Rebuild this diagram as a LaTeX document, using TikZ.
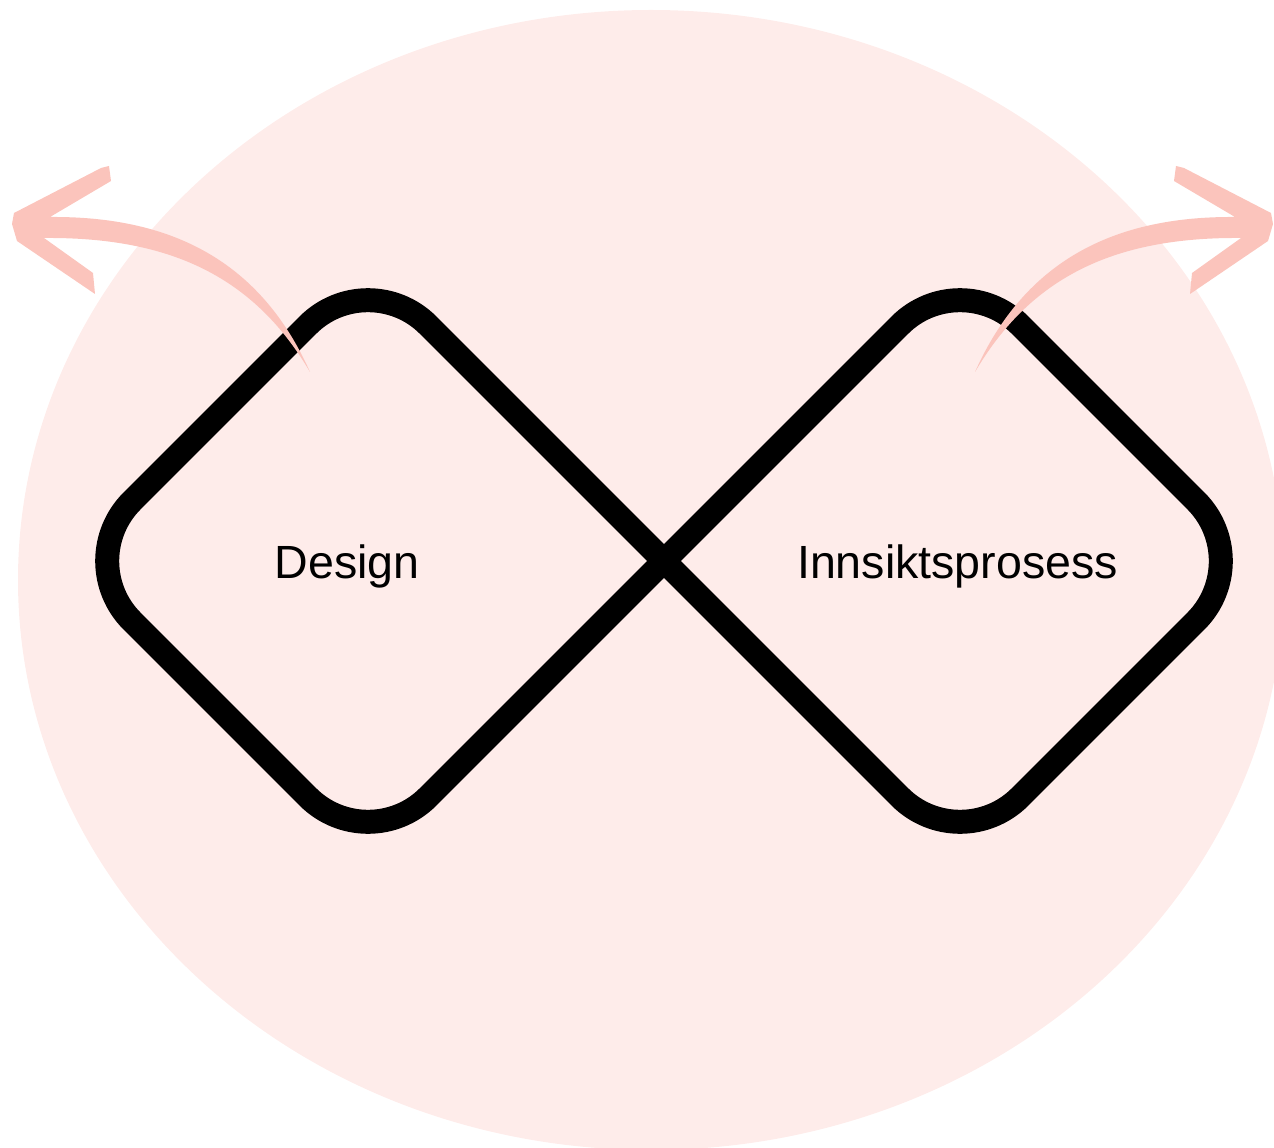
\documentclass[tikz,border=0pt]{standalone}
\usepackage{fontspec}
\setmainfont{Liberation Sans}
\definecolor{bgpink}{HTML}{FEECEA}
\definecolor{arrowpink}{HTML}{FBC4BC}
\begin{document}
\begin{tikzpicture}[x=0.02cm,y=-0.02cm,
  loopline/.style={draw=black,line width=0.48cm,rounded corners=1.7cm},
  lbl/.style={font=\fontsize{26.5}{30}\selectfont,anchor=base,inner sep=0pt},
  brush/.style={fill=arrowpink,draw=none}]
\useasboundingbox (0,0) rectangle (1274,1148);
\begin{scope}
  \clip (0,0) rectangle (1274,1148);
  \fill[bgpink] (651,580) ellipse [x radius=633, y radius=570];
\end{scope}
% figure-eight of two rounded diamonds
\coordinate (S) at (516,413);
\coordinate (X) at (664,561);
\coordinate (LT) at (368,265);
\coordinate (LL) at (72,561);
\coordinate (LB) at (368,857);
\coordinate (RT) at (960,265);
\coordinate (RR) at (1256,561);
\coordinate (RB) at (960,857);
\draw[loopline] (S) -- (LT) -- (LL) -- (LB) -- (X) -- (RT) -- (RR) -- (RB) -- (X) -- cycle;
% labels
\node[lbl] (design) at (347,578) {Design};
\node[lbl] (innsikt) at (957.5,578) {Innsiktsprosess};
% left brush arrow
\fill[brush] (310,372) .. controls (260,260) and (170,216) .. (50,217)
  -- (111,181) -- (109,166) -- (101,168) -- (14,213) -- (12,224) -- (17,241)
  -- (95,294) -- (93,273) -- (44,238)
  .. controls (165,237) and (252,273) .. (310,372) -- cycle;
% right brush arrow (mirror image)
\begin{scope}[shift={(1285,0)},xscale=-1]
\fill[brush] (310,372) .. controls (260,260) and (170,216) .. (50,217)
  -- (111,181) -- (109,166) -- (101,168) -- (14,213) -- (12,224) -- (17,241)
  -- (95,294) -- (93,273) -- (44,238)
  .. controls (165,237) and (252,273) .. (310,372) -- cycle;
\end{scope}
\end{tikzpicture}
\end{document}
